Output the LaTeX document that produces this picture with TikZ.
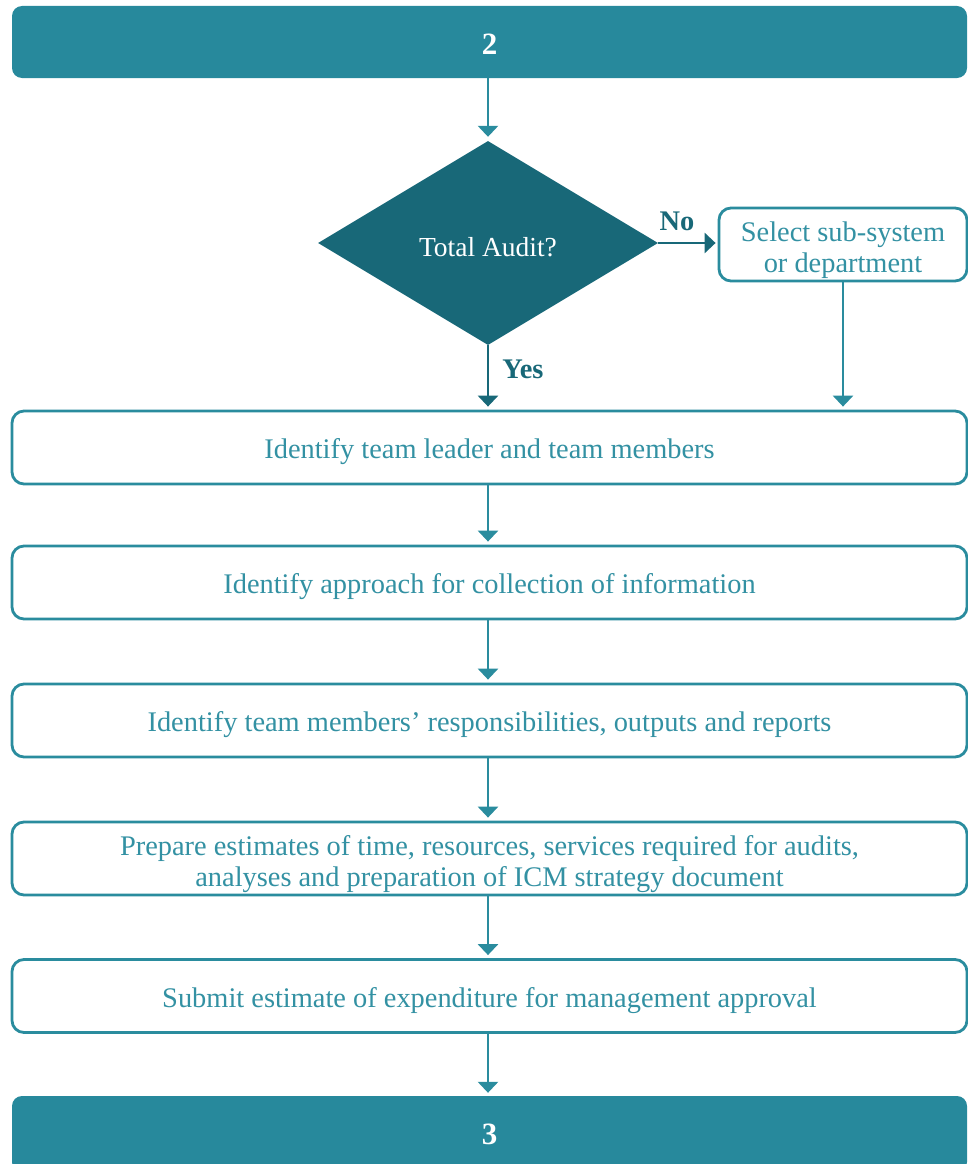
\documentclass[tikz,border=0pt]{standalone}
\usepackage{fontspec}
\setmainfont{Liberation Serif}
\usetikzlibrary{shapes.geometric,arrows.meta}
\definecolor{barteal}{HTML}{27899C}
\definecolor{darkteal}{HTML}{186878}
\definecolor{lineteal}{HTML}{2A8C9E}
\definecolor{textteal}{HTML}{3391A3}
\newcommand{\upstrut}[1]{\rule{0pt}{#1}}
\tikzset{
  bar/.style={rectangle, rounded corners=10pt, fill=barteal, text=white, minimum width=955pt, minimum height=72pt, inner sep=0pt, font=\fontsize{31}{34}\selectfont\bfseries},
  stepbox/.style={rectangle, rounded corners=12pt, draw=lineteal, line width=2.8pt, fill=white, text=textteal, minimum width=955pt, minimum height=73pt, inner sep=0pt, align=center, font=\fontsize{28.4}{32}\selectfont},
  decision/.style={diamond, fill=darkteal, text=white, minimum width=340pt, minimum height=204pt, inner sep=0pt, font=\fontsize{27.5}{32}\selectfont},
  conn/.style={draw=lineteal, line width=2.8pt, -{Triangle[width=20pt,length=11pt]}, shorten >=3pt},
  darkconn/.style={conn, draw=darkteal},
  lbl/.style={text=darkteal, font=\fontsize{28.4}{32}\selectfont\bfseries, inner sep=0pt}
}
\begin{document}
\begin{tikzpicture}[x=1pt,y=-1pt]
\useasboundingbox (0,0) rectangle (968,1164);
\clip (0,0) rectangle (968,1164);
\node[bar] (start) at (489.5,42) {\upstrut{26pt}2};
\node[decision] (dec) at (488,243) {\upstrut{27pt}Total Audit?};
\node[stepbox, minimum width=248pt] (sel) at (843,244.5) {\upstrut{31pt}Select sub-system\\[-1pt]or department};
\node[stepbox] (b1) at (489.5,447.5) {\upstrut{28.5pt}Identify team leader and team members};
\node[stepbox] (b2) at (489.5,582.5) {\upstrut{28.5pt}Identify approach for collection of information};
\node[stepbox] (b3) at (489.5,720.5) {\upstrut{28.5pt}Identify team members’ responsibilities, outputs and reports};
\node[stepbox] (b4) at (489.5,858.5) {\upstrut{31.5pt}Prepare estimates of time, resources, services required for audits,\\[-1pt]analyses and preparation of ICM strategy document};
\node[stepbox] (b5) at (489.5,996) {\upstrut{28.5pt}Submit estimate of expenditure for management approval};
\node[bar, minimum height=76pt] (end) at (489.5,1134) {3};

\draw[conn, shorten >=4pt] (start.south -| dec.north) -- (dec.north);
\draw[darkconn, shorten >=2pt] (dec.east) -- (dec.east -| sel.west);
\draw[darkconn] (dec.south) -- (dec.south |- b1.north);
\draw[conn] (sel.south) -- (sel.south |- b1.north);
\draw[conn] (b1.south -| dec.south) -- (b2.north -| dec.south);
\draw[conn] (b2.south -| dec.south) -- (b3.north -| dec.south);
\draw[conn] (b3.south -| dec.south) -- (b4.north -| dec.south);
\draw[conn] (b4.south -| dec.south) -- (b5.north -| dec.south);
\draw[conn] (b5.south -| dec.south) -- (end.north -| dec.south);

\node[lbl] (no) at (677,221) {No};
\node[lbl] (yes) at (523,369) {Yes};
\end{tikzpicture}
\end{document}
